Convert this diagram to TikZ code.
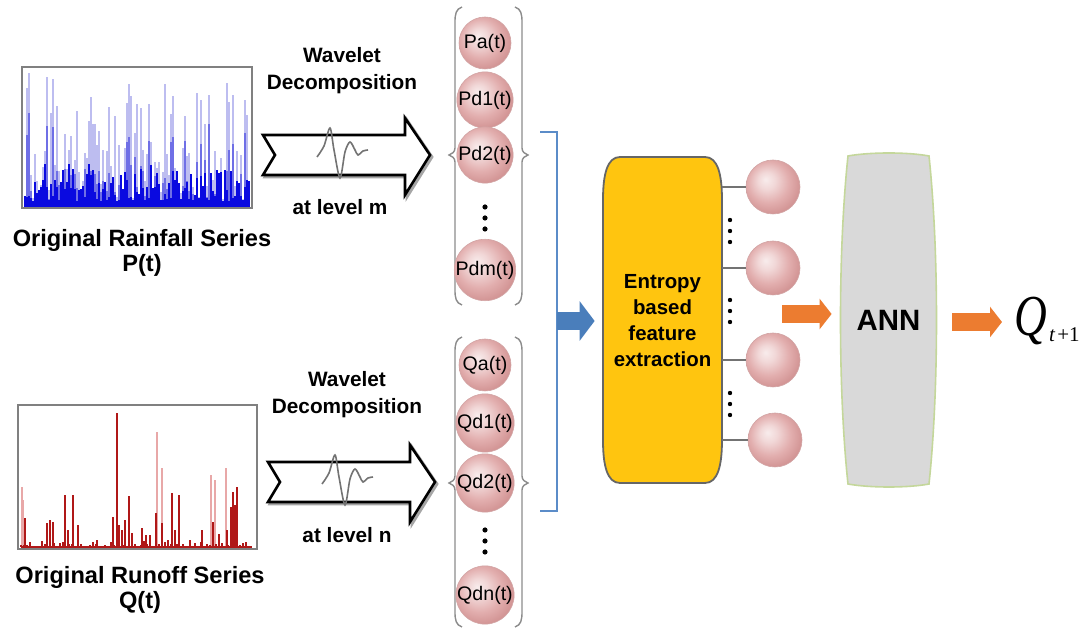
\documentclass[tikz,border=0pt]{standalone}
\usepackage{fontspec}
\setmainfont{Liberation Sans}
\newfontfamily\qfont{Liberation Serif}
\usetikzlibrary{arrows.meta}

\definecolor{pk1}{HTML}{F8ECEC}
\definecolor{pk2}{HTML}{F1D7D7}
\definecolor{pk3}{HTML}{E2AEAE}
\definecolor{pk4}{HTML}{CF8F8F}
\definecolor{pkedge}{HTML}{D2A4A4}
\definecolor{rainlight}{HTML}{BDBDF0}
\definecolor{rainmid}{HTML}{6F6FE6}
\definecolor{raindark}{HTML}{0A0AE0}
\definecolor{runlight}{HTML}{E8A8A8}
\definecolor{rundark}{HTML}{B01818}
\definecolor{entyellow}{HTML}{FFC50F}
\definecolor{annfill}{HTML}{D9D9D9}
\definecolor{annedge}{HTML}{C4D79B}
\definecolor{brblue}{HTML}{4A7EBB}
\definecolor{brline}{HTML}{5B8CC8}
\definecolor{arrorange}{HTML}{EC7C30}

\pgfdeclareradialshading{pinkball}{\pgfpoint{-7bp}{7bp}}{%
  color(0bp)=(pk1); color(8bp)=(pk2); color(19bp)=(pk3);
  color(30bp)=(pk4); color(50bp)=(pk4)}

\begin{document}
\begin{tikzpicture}[x=0.5pt,y=-0.5pt,
  lbl/.style={font=\fontsize{11.8}{12.2}\selectfont\bfseries, align=center, inner sep=0},
  wlbl/.style={font=\fontsize{10.4}{13.5}\selectfont\bfseries, align=center, inner sep=0},
  comp/.style={circle, minimum size=26pt, inner sep=0, shading=pinkball,
    draw=pkedge, line width=0.3pt, font=\fontsize{9.8}{10}\selectfont},
  feat/.style={circle, minimum size=27pt, inner sep=0, shading=pinkball,
    draw=pkedge, line width=0.3pt},
  chartframe/.style={draw=black!50, line width=1pt, fill=white, inner sep=0},
  bracepath/.style={draw=black!45, line width=0.7pt},
  stub/.style={draw=black!55, line width=1pt},
  dot/.style={fill=black},
  orarrow/.style={draw=arrorange, line width=9pt, -{Triangle[length=6pt,width=15pt]}},
  blarrow/.style={draw=brblue, line width=9pt, -{Triangle[length=7.5pt,width=19.5pt]}},
  bigarr/.pic={
    \draw[black!35, line width=1.4pt, line join=miter, shift={(2,2)}]
      (0,0) -- (142,0) -- (142,-17) -- (167,20) -- (142,60) -- (142,40)
      -- (0,40) -- (12,20) -- cycle;
    \draw[black, fill=white, line width=1.3pt, line join=miter]
      (0,0) -- (142,0) -- (142,-17) -- (167,20) -- (142,60) -- (142,40)
      -- (0,40) -- (12,20) -- cycle;
    \draw[black!55, line width=0.8pt] plot[smooth] coordinates
      {(54,22) (61,11) (67,-7) (71,15) (77,43) (82,17) (87,7) (92,15)
       (95,20) (100,16) (105,15)};
  }]

\useasboundingbox (0,0) rectangle (1084,630);
\fill[white] (0,0) rectangle (1084,630);

% ---------- rainfall series ----------
\node[chartframe, minimum width=115pt, minimum height=70.5pt] (rain) at (137,137.5) {};
\pgfmathsetseed{1234}
\foreach \i in {0,...,112}{
  \pgfmathsetmacro\xx{25+2*\i}
  \pgfmathsetmacro\ha{8+127*pow(rnd,2)}
  \pgfmathsetmacro\hb{\ha*(0.15+0.6*rnd)}
  \pgfmathsetmacro\hc{6+38*pow(rnd,1.6)}
  \draw[rainlight, line width=0.55pt] (\xx,207) -- ++(0,-\ha);
  \draw[rainmid, line width=0.6pt] (\xx,207) -- ++(0,-\hb);
  \draw[raindark, line width=0.7pt] (\xx,207) -- ++(0,-\hc);
}
\draw[black!50, line width=1pt] (22,67) rectangle (252,208);
\node[lbl] (rainlbl) at (142,253) {Original Rainfall Series\\P(t)};

% ---------- runoff series ----------
\node[chartframe, minimum width=119.5pt, minimum height=72pt] (run) at (137.5,477) {};
\foreach \x/\y in {22/487,157/432,162/468,211/475,226/468,215/480,23/500}
  \draw[runlight, line width=1.2pt] (\x,547) -- (\x,\y);
\foreach \x/\y in {25/518,47/523,50/520,53/522,65/495,73/495,78/525,113/517,
  117/413,125/520,129/496,142/528,150/535,156/513,162/523,172/493,179/495,
  202/530,213/522,227/530,233/492,237/487,235/505,231/507,68/530,119/525,
  122/530,132/533,146/535,175/530,219/534,97/540,190/540}
  \draw[rundark, line width=0.7pt] (\x,547) -- (\x,\y);
\pgfmathsetseed{77}
\foreach \i in {0,...,75}{
  \pgfmathsetmacro\xx{21+3*\i}
  \pgfmathsetmacro\hh{1+6*pow(rnd,3)}
  \draw[rundark, line width=0.6pt] (\xx,547) -- ++(0,-\hh);
}
\draw[rundark, line width=1.3pt] (21,547) -- (252,547);
\draw[black!50, line width=1pt] (18,405) rectangle (257,549);
\node[lbl] (runlbl) at (140,590) {Original Runoff Series\\Q(t)};

% ---------- wavelet decomposition arrows ----------
\node[wlbl] (wtop) at (342,70.5) {Wavelet\\Decomposition};
\pic at (263,135) {bigarr};
\node[wlbl] (lvm) at (340,207) {at level m};

\node[wlbl] (wbot) at (347,395) {Wavelet\\Decomposition};
\pic at (268,462) {bigarr};
\node[wlbl] (lvn) at (347,535) {at level n};

% ---------- decomposed rainfall components ----------
\draw[bracepath] (462,7) .. controls (456,9) and (455,14) .. (455,22) -- (455,148)
  .. controls (455,152) and (452,154) .. (449,155) .. controls (452,156) and (455,158) .. (455,162)
  -- (455,290) .. controls (455,298) and (456,303) .. (462,305);
\draw[bracepath] (515,7) .. controls (521,9) and (522,14) .. (522,22) -- (522,148)
  .. controls (522,152) and (525,154) .. (528,155) .. controls (525,156) and (522,158) .. (522,162)
  -- (522,290) .. controls (522,298) and (521,303) .. (515,305);
\node[comp] (pa) at (485,43) {Pa(t)};
\node[comp] (pd1) at (485,100) {Pd1(t)};
\node[comp] (pd2) at (485,155) {Pd2(t)};
\foreach \y in {207,218,229} \fill[dot] (485,\y) circle (1.3pt);
\node[comp] (pdm) at (485,270) {Pdm(t)};

% ---------- decomposed runoff components ----------
\draw[bracepath] (462,337) .. controls (456,339) and (455,344) .. (455,352) -- (455,476)
  .. controls (455,480) and (452,482) .. (449,483) .. controls (452,484) and (455,486) .. (455,490)
  -- (455,612) .. controls (455,620) and (456,625) .. (462,627);
\draw[bracepath] (515,337) .. controls (521,339) and (522,344) .. (522,352) -- (522,476)
  .. controls (522,480) and (525,482) .. (528,483) .. controls (525,484) and (522,486) .. (522,490)
  -- (522,612) .. controls (522,620) and (521,625) .. (515,627);
\node[comp] (qa) at (485,365) {Qa(t)};
\node[comp] (qd1) at (485,423) {Qd1(t)};
\node[comp] (qd2) at (485,483) {Qd2(t)};
\foreach \y in {530,541,552} \fill[dot] (485,\y) circle (1.3pt);
\node[comp] (qdn) at (485,595) {Qdn(t)};

% ---------- grouping bracket and feature extraction ----------
\draw[brline, line width=1.2pt] (540,132) -- (557,132) -- (557,511) -- (540,511);
\coordinate (bmid) at (557,321);

\fill[entyellow] (620,157) -- (705,157) .. controls (718,157) and (722,175) .. (722,200)
  -- (722,440) .. controls (722,465) and (718,483) .. (705,483) -- (620,483)
  .. controls (607,483) and (603,465) .. (603,440) -- (603,200)
  .. controls (603,175) and (607,157) .. (620,157) -- cycle;
\draw[black!60, line width=0.9pt] (620,157) -- (705,157) .. controls (718,157) and (722,175) .. (722,200)
  -- (722,440) .. controls (722,465) and (718,483) .. (705,483) -- (620,483)
  .. controls (607,483) and (603,465) .. (603,440) -- (603,200)
  .. controls (603,175) and (607,157) .. (620,157) -- cycle;
\node[font=\fontsize{10.2}{13}\selectfont\bfseries, align=center, inner sep=0,
  minimum width=59.5pt, minimum height=163pt] (ent) at (662.5,321)
  {Entropy\\based\\feature\\extraction};

\draw[blarrow, shorten >=4pt] (bmid) -- (ent.west);

% ---------- extracted features ----------
\node[feat] (f1) at (773,187) {};
\node[feat] (f2) at (773,268) {};
\node[feat] (f3) at (773,360) {};
\node[feat] (f4) at (775,440) {};
\foreach \f in {f1,f2,f3,f4}
  \draw[stub] (ent.east |- \f.west) -- (\f.west);
\foreach \y in {220,231,242,300,311,322,393,404,415}
  \fill[dot] (730,\y) circle (1.1pt);

% ---------- ANN ----------
\draw[fill=annfill, draw=annedge, line width=0.8pt]
  (848,156) .. controls (870,152) and (908,152) .. (929,156)
  .. controls (939,250) and (939,390) .. (929,484)
  .. controls (908,488) and (870,488) .. (848,484)
  .. controls (838,390) and (838,250) .. (848,156) -- cycle;
\node[font=\fontsize{14.7}{15}\selectfont\bfseries, inner sep=0,
  minimum width=47.5pt, minimum height=165pt] (ann) at (888.5,320) {ANN};

\coordinate (o1) at (782,314);
\draw[orarrow, shorten >=4.5pt] (o1) -- (o1 -| ann.west);

% ---------- forecast ----------
\node[anchor=base west, inner sep=0] (q) at (1014,336)
  {\qfont\itshape\scalebox{0.78}[1]{\fontsize{29}{29}\selectfont Q}\hspace{1pt}\raisebox{-3pt}{\fontsize{10.5}{11}\selectfont t\hspace{1.2pt}\upshape +1}};
\coordinate (o2) at (952,322);
\draw[orarrow, shorten >=6pt] (o2) -- (o2 -| q.west);

\end{tikzpicture}
\end{document}
